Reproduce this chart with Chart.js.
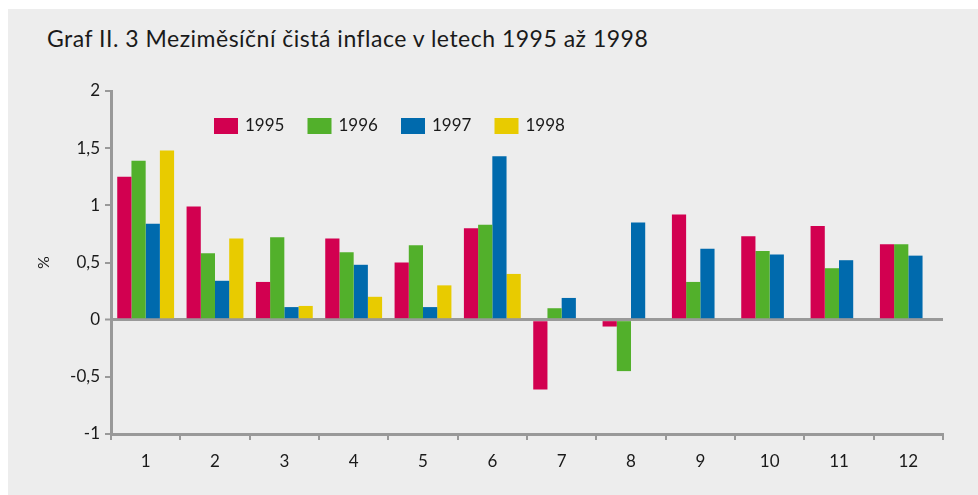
<!DOCTYPE html>
<html>
<head>
<meta charset="utf-8">
<script src="https://cdn.jsdelivr.net/npm/chart.js@4/dist/chart.umd.min.js"></script>
<style>
    html, body { margin: 0; padding: 0; background: #fff; }
    #panel { position: absolute; left: 8px; top: 9px; width: 970px; height: 486px; background: #ededed; }
    #title { position: absolute; left: 47px; top: 24px; font-family: Lato, sans-serif; font-size: 23px; letter-spacing: 0.5px; color: #1a1a1a; white-space: nowrap; }
    #wrap { position: absolute; left: 0; top: 0; width: 978px; height: 495px; }
</style>
</head>
<body>
<div id="panel"></div>
<div id="title">Graf II. 3 Meziměsíční čistá inflace v letech 1995 až 1998</div>
<div id="wrap"><canvas id="chart"></canvas></div>
<script>
// months on the x axis
const months = ['1', '2', '3', '4', '5', '6', '7', '8', '9', '10', '11', '12'];

// month-on-month net inflation, %
const y1995 = [1.25, 0.99, 0.33, 0.71, 0.50, 0.80, -0.61, -0.06, 0.92, 0.73, 0.82, 0.66];
const y1996 = [1.39, 0.58, 0.72, 0.59, 0.65, 0.83, 0.10, -0.45, 0.33, 0.60, 0.45, 0.66];
const y1997 = [0.84, 0.34, 0.11, 0.48, 0.11, 1.43, 0.19, 0.85, 0.62, 0.57, 0.52, 0.56];
const y1998 = [1.48, 0.71, 0.12, 0.20, 0.30, 0.40, null, null, null, null, null, null];

const seriesLabels = ['1995', '1996', '1997', '1998'];
const seriesColours = ['#d20050', '#52b02b', '#006aad', '#e8cb00'];

const axisGrey = '#999999';
const fontFamily = 'Lato, sans-serif';

// legend sits inside the plot, so draw it by hand
const insideLegend = {
    id: 'insideLegend',
    afterDraw(chart) {
        const ctx = chart.ctx;
        const area = chart.chartArea;
        ctx.save();
        ctx.font = '17px ' + fontFamily;
        ctx.textBaseline = 'middle';
        chart.data.datasets.forEach((ds, i) => {
            const x = area.left + 103 + i * 93.5;
            const y = area.top + 27;
            ctx.fillStyle = ds.backgroundColor;
            ctx.fillRect(x, y, 24, 16);
            ctx.fillStyle = '#1a1a1a';
            ctx.fillText(ds.label, x + 31, y + 8);
        });
        ctx.restore();
    }
};

const ctx = document.getElementById('chart').getContext('2d');
new Chart(ctx, {
    type: 'bar',
    data: {
        labels: months,
        datasets: [y1995, y1996, y1997, y1998].map((values, i) => ({
            label: seriesLabels[i],
            data: values,
            backgroundColor: seriesColours[i],
            borderWidth: 0,
            categoryPercentage: 0.82,
            barPercentage: 1,
        })),
    },
    options: {
        responsive: true,
        maintainAspectRatio: false,
        animation: false,
        layout: {
            padding: { left: 28, right: 35, top: 91, bottom: 0 },
        },
        scales: {
            x: {
                grid: {
                    display: true,
                    drawOnChartArea: false,
                    offset: true,
                    color: axisGrey,
                    tickLength: 6,
                    lineWidth: 2,
                },
                border: { display: true, color: axisGrey, width: 3 },
                ticks: {
                    color: '#1a1a1a',
                    font: { family: fontFamily, size: 17 },
                    padding: 11,
                    maxRotation: 0,
                },
                afterFit: (scale) => { scale.height = 61; },
            },
            y: {
                min: -1,
                max: 2,
                grid: {
                    drawOnChartArea: true,
                    color: (c) => (c.tick && c.tick.value === 0 ? axisGrey : 'rgba(0,0,0,0)'),
                    lineWidth: (c) => (c.tick && c.tick.value === 0 ? 3 : 0),
                    tickColor: axisGrey,
                    tickWidth: 2,
                    tickLength: 6,
                },
                border: { display: true, color: axisGrey, width: 3 },
                ticks: {
                    stepSize: 0.5,
                    color: '#1a1a1a',
                    font: { family: fontFamily, size: 17 },
                    padding: 5,
                    callback: (v) => String(v).replace('.', ','),
                },
                title: {
                    display: true,
                    text: '%',
                    color: '#1a1a1a',
                    font: { family: fontFamily, size: 16 },
                    padding: { top: 6, bottom: 0 },
                },
                afterFit: (scale) => { scale.width = 83; },
            },
        },
        plugins: {
            legend: { display: false },
            tooltip: { enabled: false },
        },
    },
    plugins: [insideLegend],
});
</script>
</body>
</html>
